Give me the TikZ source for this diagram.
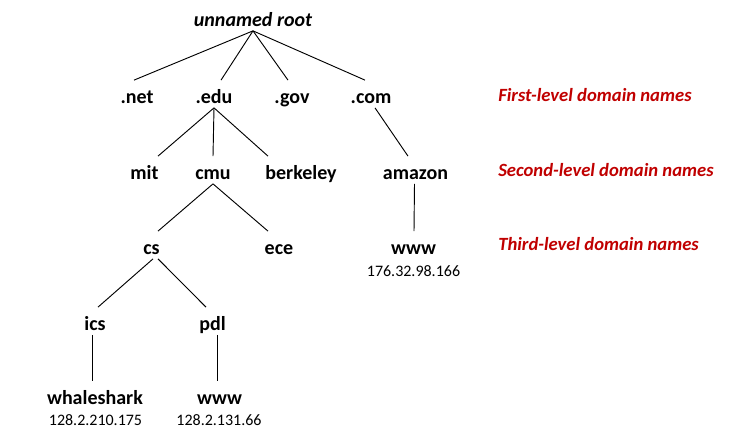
\documentclass[tikz,border=0pt]{standalone}
\usepackage{fontspec}
\setmainfont{Carlito}
\usetikzlibrary{calc,positioning}
\definecolor{levelred}{HTML}{C00000}
\tikzset{
  dns name/.style={
    anchor=base,
    inner xsep=0pt,
    inner ysep=1.2pt,
    text height=16.5pt,
    text depth=1.5pt,
    font=\fontsize{15}{18}\selectfont\bfseries
  },
  ip addr/.style={
    anchor=base,
    inner sep=0pt,
    font=\fontsize{12}{14}\selectfont
  },
  level label/.style={
    anchor=base west,
    inner sep=0pt,
    text=levelred,
    font=\fontsize{14}{17}\selectfont\bfseries\itshape
  },
  tree edge/.style={draw=black, line width=0.7pt}
}

\begin{document}
\begin{tikzpicture}[x=0.75pt,y=-0.75pt]
  \useasboundingbox (0,0) rectangle (743,441);

  % root and first level
  \node (root) [dns name, font=\fontsize{15}{18}\selectfont\bfseries\itshape] at (253,27) {unnamed root};
  \node (net) [dns name] at (137,104) {.net};
  \node (edu) [dns name] at (214,104) {.edu};
  \node (gov) [dns name] at (292,104) {.gov};
  \node (com) [dns name] at (371,104) {.com};

  % second level
  \node (mit) [dns name] at (144.5,180) {mit};
  \node (cmu) [dns name] at (213,180) {cmu};
  \node (berkeley) [dns name] at (301,180) {berkeley};
  \node (amazon) [dns name] at (415.5,180) {amazon};

  % third level
  \node (cs) [dns name] at (151.5,255) {cs};
  \node (ece) [dns name] at (279,255) {ece};
  \node (amazon_www) [dns name] at (413.5,255) {www};
  \node (amazon_www_ip) [ip addr] at (413.5,277) {176.32.98.166};

  \node (ics) [dns name] at (95,331) {ics};
  \node (pdl) [dns name] at (212.5,331) {pdl};

  \node (whaleshark) [dns name] at (95,405) {whaleshark};
  \node (whaleshark_ip) [ip addr] at (95.5,426) {128.2.210.175};
  \node (pdl_www) [dns name] at (219.5,405) {www};
  \node (pdl_www_ip) [ip addr] at (219,426) {128.2.131.66};

  % level labels
  \node (first_label) [level label] at (498,102) {First-level domain names};
  \node (second_label) [level label] at (498,177) {Second-level domain names};
  \node (third_label) [level label] at (498,251) {Third-level domain names};

  % edges
  \draw[tree edge] (root.south) -- ($(net.north)+(-3,0)$);
  \draw[tree edge] (root.south) -- ($(edu.north)+(7,0)$);
  \draw[tree edge] (root.south) -- ($(gov.north)+(-4,0)$);
  \draw[tree edge] (root.south) -- ($(com.north)+(-6,0)$);

  \draw[tree edge] (edu.south) -- ($(mit.north)+(13.5,0)$);
  \draw[tree edge] (edu.south) -- (cmu.north);
  \draw[tree edge] (edu.south) -- ($(berkeley.north)+(-33,0)$);
  \draw[tree edge] ($(com.south)+(4,0)$) -- ($(amazon.north)+(-7.5,0)$);
  \draw[tree edge] ($(amazon.south)+(-1,0)$) -- ($(amazon_www.north)+(0.5,0)$);

  \draw[tree edge] (cmu.south) -- ($(cs.north)+(6.5,0)$);
  \draw[tree edge] (cmu.south) -- ($(ece.north)+(-11,0)$);

  \draw[tree edge] ($(cs.south)+(1.5,0)$) -- ($(ics.north)+(3,0)$);
  \draw[tree edge] ($(cs.south)+(6.5,0)$) -- ($(pdl.north)+(-6.5,0)$);

  \draw[tree edge] ($(ics.south)+(-2.5,0)$) -- ($(whaleshark.north)+(-2.5,0)$);
  \draw[tree edge] ($(pdl.south)+(5,0)$) -- ($(pdl_www.north)+(-2,0)$);
\end{tikzpicture}
\end{document}
